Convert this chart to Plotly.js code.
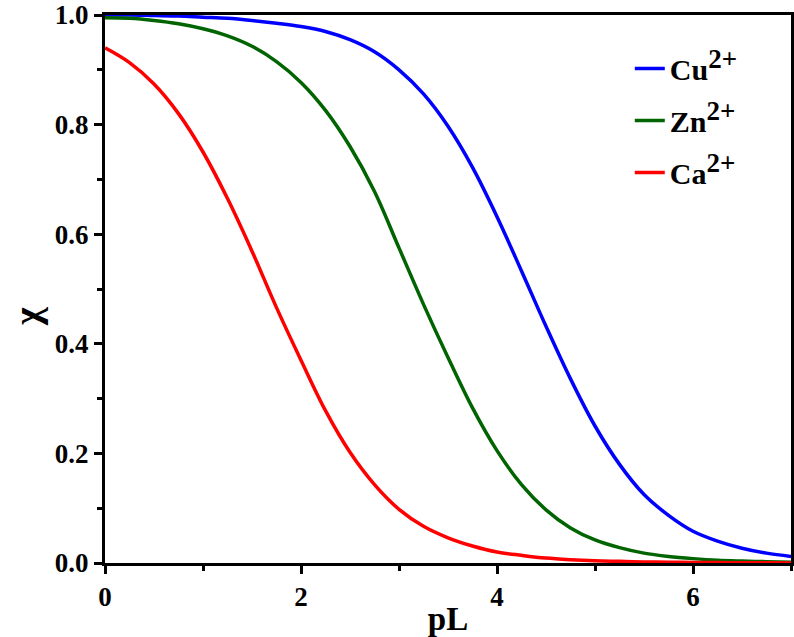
<!DOCTYPE html>
<html>
<head>
<meta charset="utf-8">
<script src="https://cdn.plot.ly/plotly-3.0.1.min.js"></script>
<style>
  body { margin: 0; background: #fff; }
  #myDiv { width: 794px; height: 637px; }
</style>
</head>
<body>
<div id="myDiv"></div>
<script>
// pL grid and fractions
var pL = [0, 0.25, 0.5, 0.75, 1, 1.25, 1.5, 1.75, 2, 2.25, 2.5, 2.75, 3, 3.25, 3.5,
          3.75, 4, 4.25, 4.5, 4.75, 5, 5.25, 5.5, 5.75, 6, 6.25, 6.5, 6.75, 7];

var cuY = [1.0, 1.0, 0.999, 0.998, 0.996, 0.994, 0.99, 0.985, 0.979, 0.97, 0.955, 0.933, 0.9, 0.856, 0.797,
           0.722, 0.632, 0.533, 0.432, 0.336, 0.25, 0.18, 0.125, 0.087, 0.058, 0.04, 0.027, 0.018, 0.012];

var znY = [0.995, 0.994, 0.99, 0.984, 0.975, 0.962, 0.943, 0.915, 0.877, 0.826, 0.76, 0.678, 0.575, 0.472, 0.375,
           0.283, 0.205, 0.143, 0.097, 0.064, 0.042, 0.028, 0.018, 0.012, 0.008, 0.005, 0.0035, 0.0025, 0.0015];

var caY = [0.94, 0.913, 0.874, 0.82, 0.75, 0.665, 0.569, 0.466, 0.37, 0.278, 0.202, 0.143, 0.098, 0.067, 0.046,
           0.031, 0.02, 0.014, 0.009, 0.006, 0.004, 0.003, 0.002, 0.0015, 0.001, 0.0007, 0.0005, 0.0003, 0.0002];

var ions = ['Cu', 'Zn', 'Ca'];
var charge = '2+';
var xTicks = [0, 2, 4, 6];
var yTicks = [0, 0.2, 0.4, 0.6, 0.8, 1.0];

var serif = '"Liberation Serif", "Times New Roman", Times, serif';

function ionLabel(ion) {
  return ion + '<sup><span style="font-size:27px">' + charge + '</span></sup>';
}

function curve(y, name, color, group) {
  return {
    x: pL,
    y: y,
    type: 'scatter',
    mode: 'lines',
    name: name,
    legendgroup: group,
    line: { color: color, width: 3.5, shape: 'spline', smoothing: 1 }
  };
}

var data = [
  curve(cuY, ionLabel(ions[0]), '#0000ff', 'a'),
  curve(znY, ionLabel(ions[1]), '#006400', 'b'),
  curve(caY, ionLabel(ions[2]), '#ff0000', 'c')
];

var tickFont = { family: serif, size: 27, color: '#000', weight: 'bold' };

var layout = {
  width: 794,
  height: 637,
  margin: { l: 105, r: 3, t: 15, b: 74 },
  paper_bgcolor: '#fff',
  plot_bgcolor: '#fff',
  showlegend: true,
  legend: {
    x: 0.765, y: 0.95, xanchor: 'left', yanchor: 'top',
    bgcolor: 'rgba(0,0,0,0)',
    font: { family: serif, size: 30, color: '#000', weight: 'bold' },
    traceorder: 'grouped',
    tracegroupgap: 10
  },
  xaxis: {
    range: [0, 7],
    tickvals: xTicks,
    ticktext: xTicks.map(String),
    ticklabeloverflow: 'allow',
    showgrid: false,
    zeroline: false,
    showline: true,
    linecolor: '#000',
    linewidth: 3,
    mirror: true,
    ticks: 'outside',
    ticklen: 8,
    tickwidth: 3,
    tickcolor: '#000',
    tickfont: tickFont,
    minor: { dtick: 1, tick0: 0, ticks: 'outside', ticklen: 5, tickwidth: 3, tickcolor: '#000', showgrid: false },
    title: { text: 'pL', font: { family: serif, size: 33, color: '#000', weight: 'bold' }, standoff: 0 }
  },
  yaxis: {
    range: [0, 1],
    tickvals: yTicks,
    ticktext: yTicks.map(function (v) { return v.toFixed(1); }),
    ticklabeloverflow: 'allow',
    showgrid: false,
    zeroline: false,
    showline: true,
    linecolor: '#000',
    linewidth: 3,
    mirror: true,
    ticks: 'outside',
    ticklen: 8,
    tickwidth: 3,
    tickcolor: '#000',
    tickfont: tickFont,
    minor: { dtick: 0.1, tick0: 0, ticks: 'outside', ticklen: 5, tickwidth: 3, tickcolor: '#000', showgrid: false }
  },
  annotations: [{
    text: 'χ',
    xref: 'paper', yref: 'paper',
    x: -0.113, y: 0.45,
    xanchor: 'center', yanchor: 'middle',
    textangle: -90,
    showarrow: false,
    font: { family: serif, size: 38, color: '#000', weight: 'bold' }
  }]
};

Plotly.newPlot('myDiv', data, layout, { displayModeBar: false, staticPlot: true });
</script>
</body>
</html>
